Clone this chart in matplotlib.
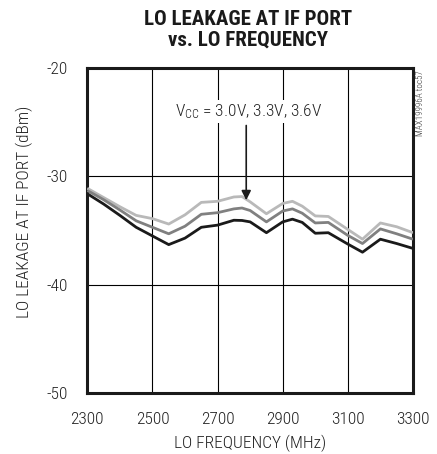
import matplotlib
matplotlib.use("Agg")
import matplotlib.pyplot as plt
import numpy as np

freq = [2300, 2350, 2400, 2450, 2500, 2550, 2600, 2650, 2700, 2750, 2775, 2800,
        2850, 2900, 2930, 2960, 3000, 3040, 3100, 3145, 3200, 3250, 3300]
vcc_30 = [-31.6, -32.55, -33.6, -34.7, -35.5, -36.3, -35.7, -34.7, -34.5, -34.05, -34.07, -34.2,
          -35.2, -34.2, -33.95, -34.25, -35.25, -35.2, -36.25, -37.0, -35.8, -36.2, -36.65]
vcc_33 = [-31.3, -32.15, -33.1, -34.1, -34.7, -35.3, -34.6, -33.5, -33.35, -33.0, -32.92, -33.15,
          -34.2, -33.2, -33.0, -33.4, -34.3, -34.25, -35.45, -36.2, -34.85, -35.3, -35.8]
vcc_36 = [-31.1, -31.95, -32.8, -33.6, -33.9, -34.4, -33.55, -32.4, -32.3, -31.9, -31.86, -32.35,
          -33.45, -32.5, -32.3, -32.75, -33.65, -33.7, -34.9, -35.8, -34.3, -34.65, -35.2]
xticks = [2300, 2500, 2700, 2900, 3100, 3300]
yticks = [-50, -40, -30, -20]

FONT = ['Roboto Condensed', 'DejaVu Sans']
plt.rcParams['font.family'] = FONT
plt.rcParams['mathtext.fontset'] = 'custom'
plt.rcParams['mathtext.rm'] = 'Roboto Condensed:light'
plt.rcParams['mathtext.it'] = 'Roboto Condensed:light'

fig = plt.figure(figsize=(4.37, 4.54), dpi=100)
ax = fig.add_axes([0.1998, 0.1344, 0.945 - 0.1998, 0.850 - 0.1344])

ax.plot(freq, vcc_36, color='#b9b9b9', lw=2.0, solid_capstyle='butt', zorder=3)
ax.plot(freq, vcc_33, color='#808080', lw=2.0, solid_capstyle='butt', zorder=3)
ax.plot(freq, vcc_30, color='#1a1a1a', lw=2.0, solid_capstyle='butt', zorder=3)

ax.set_xlim(2300, 3300)
ax.set_ylim(-50, -20)
ax.set_xticks(xticks)
ax.set_yticks(yticks)
ax.set_xticklabels([str(v) for v in xticks], fontsize=12.5, color='#222222', fontweight='light')
ax.set_yticklabels([str(v) for v in yticks], fontsize=12.5, color='#222222', fontweight='light')
ax.tick_params(length=0)
ax.tick_params(axis='x', pad=14)
ax.tick_params(axis='y', pad=14)
ax.grid(True, color='black', lw=0.8, zorder=1)
for s in ax.spines.values():
    s.set_linewidth(2.2)
    s.set_color('#1a1a1a')

ax.set_xlabel('LO FREQUENCY (MHz)', fontsize=12.5, color='#222222', fontweight='light')
ax.xaxis.set_label_coords(0.5, -0.128)
ax.set_ylabel('LO LEAKAGE AT IF PORT (dBm)', fontsize=12.5, color='#222222', fontweight='light')
ax.yaxis.set_label_coords(-0.167, 0.557)

fig.text(0.568, 0.977, 'LO LEAKAGE AT IF PORT\nvs. LO FREQUENCY', ha='center', va='top',
         fontsize=15, fontweight='bold', linespacing=1.1, color='#1a1a1a')

ax.text(0.27, 0.866, r'$\mathrm{V_{CC}}$ = 3.0V, 3.3V, 3.6V', transform=ax.transAxes,
        ha='left', va='center', fontsize=12.5, zorder=4, color='#222222', fontweight='light',
        bbox=dict(facecolor='white', edgecolor='none', pad=1.5))
ax.annotate('', xy=(2788, -32.2), xytext=(2788, -25.3),
            arrowprops=dict(arrowstyle='-|>', color='#1a1a1a', lw=1.2,
                            mutation_scale=14, shrinkA=0, shrinkB=0), zorder=4)

fig.text(0.962, 0.846, 'MAX19996A toc57', rotation=90, ha='center', va='top',
         fontsize=6.5, color='#333333', fontweight='light')

fig.savefig('out.png', dpi=100)
